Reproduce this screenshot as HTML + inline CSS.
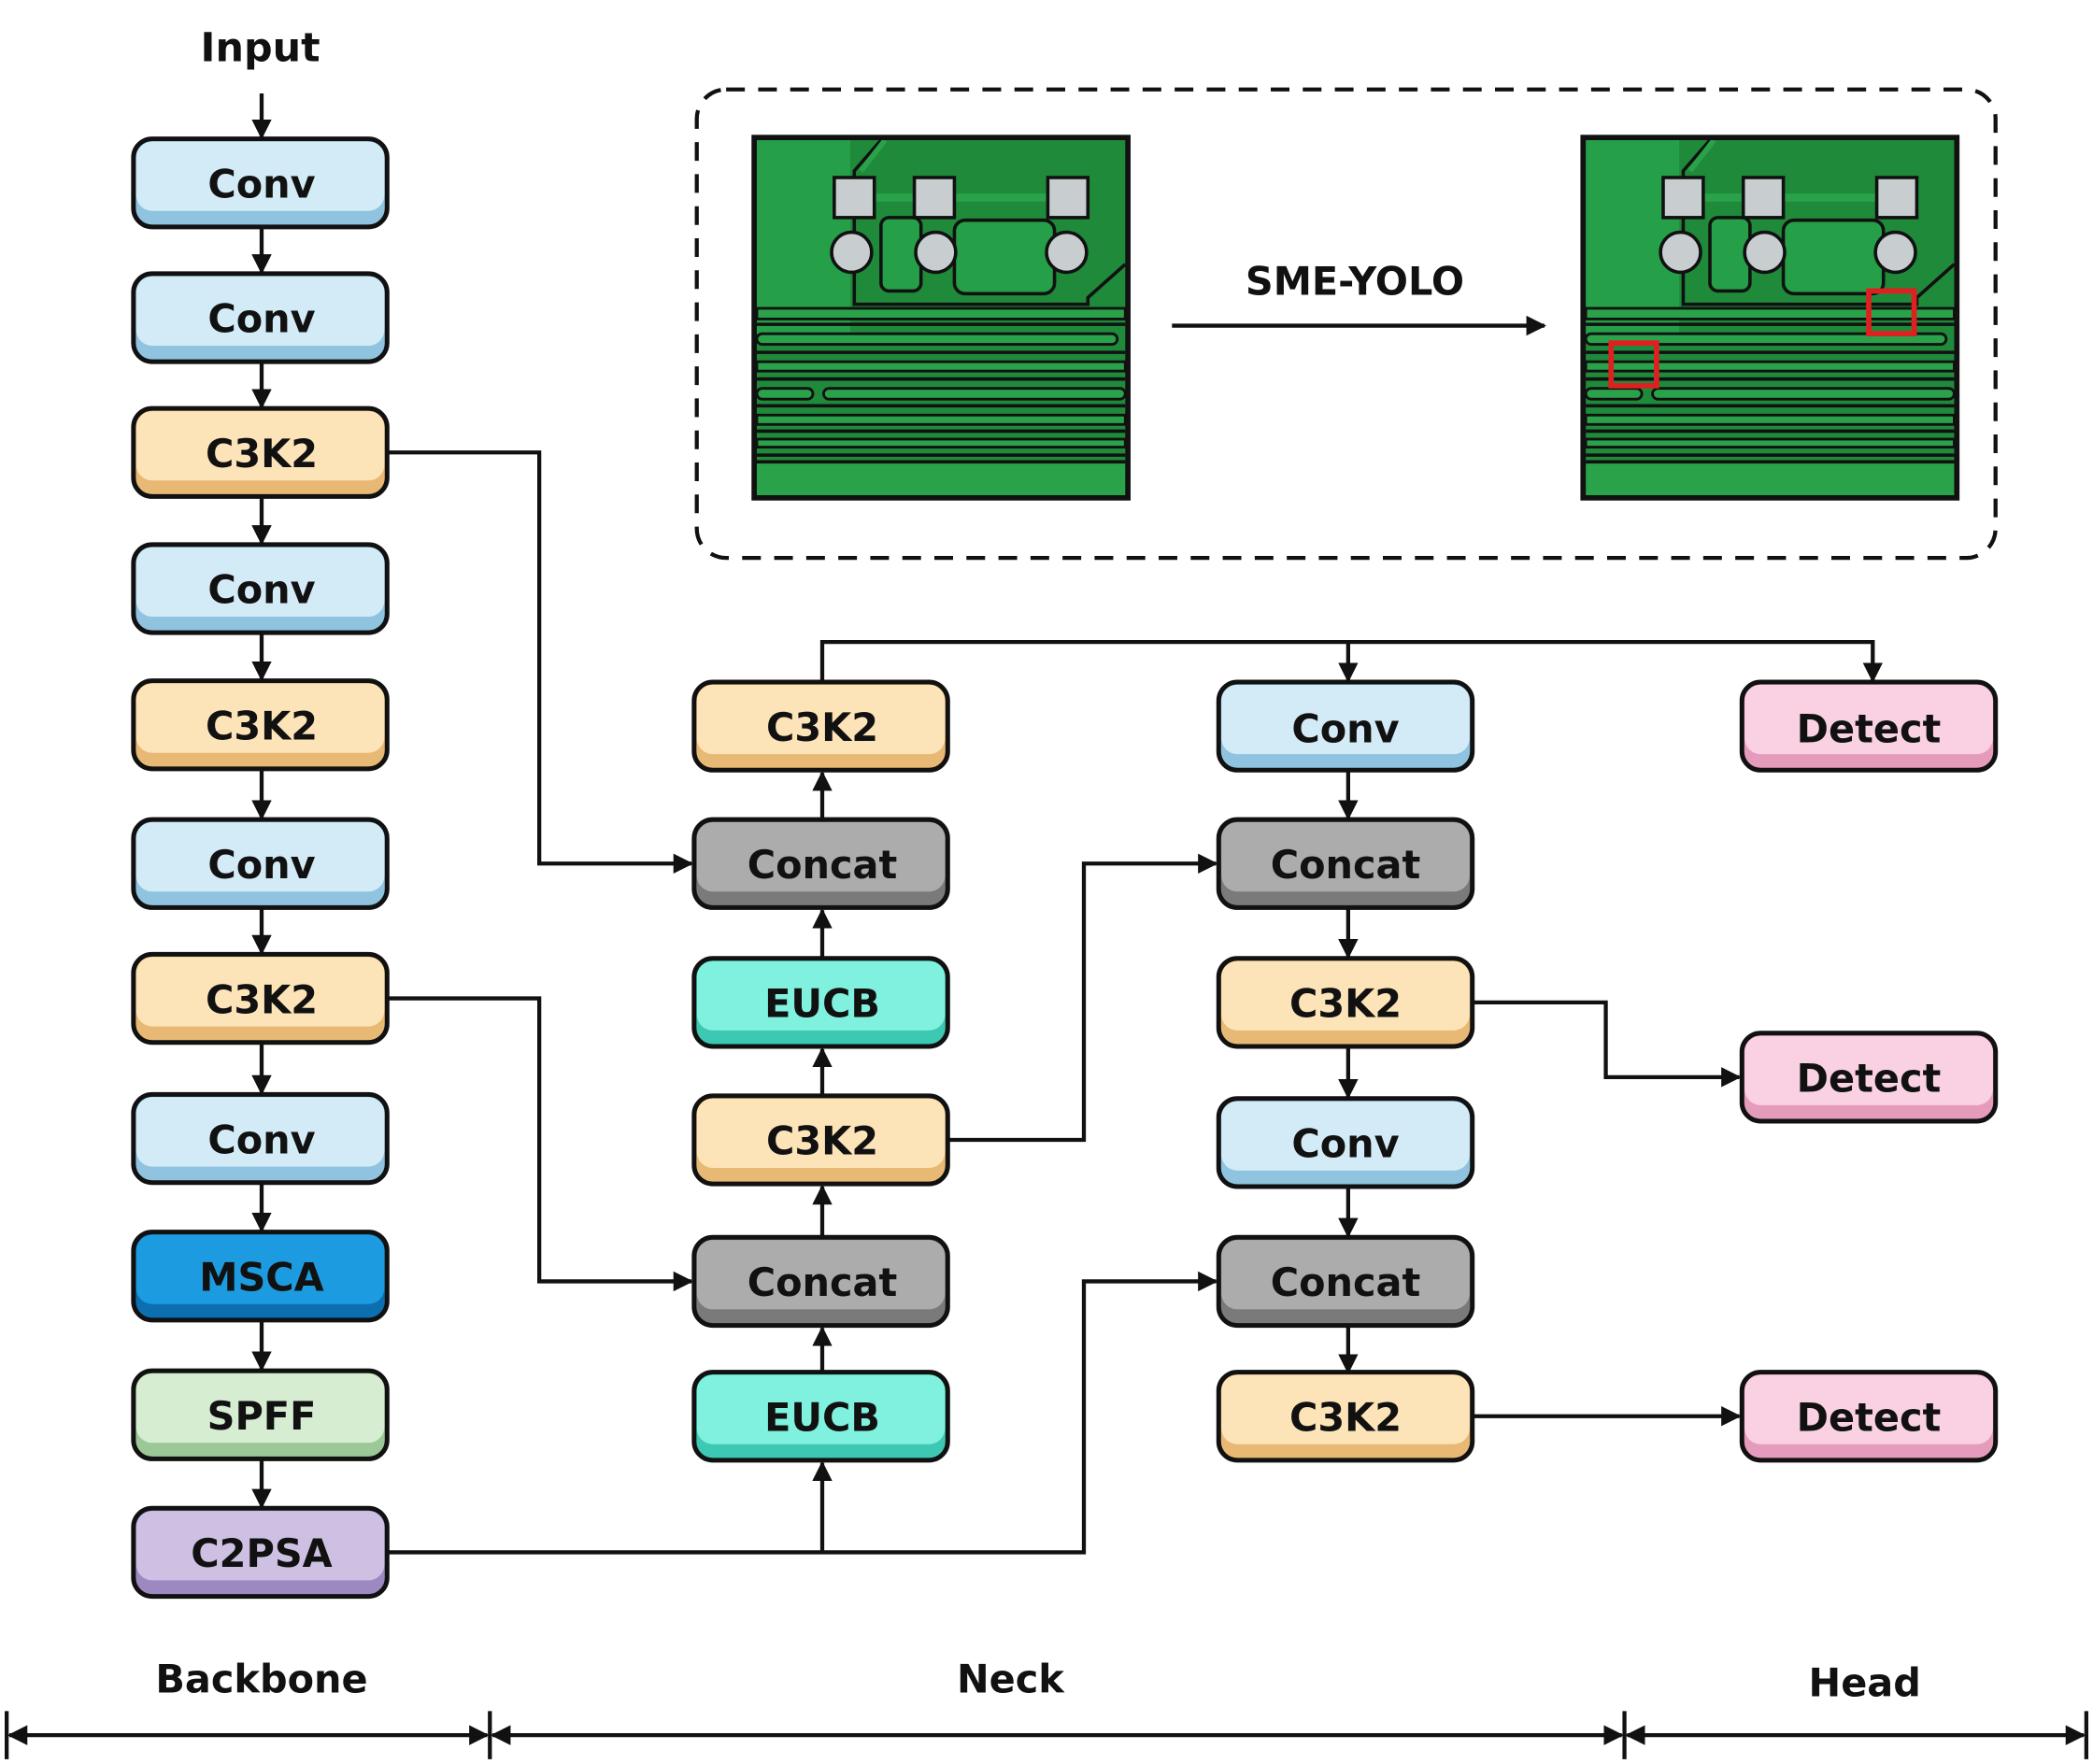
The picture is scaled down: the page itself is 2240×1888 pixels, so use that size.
<!DOCTYPE html>
<html><head><meta charset="utf-8"><style>
html,body{margin:0;padding:0;background:#fff;}
svg{display:block;}
text{font-family:"DejaVu Sans","Liberation Sans",sans-serif;font-weight:bold;}
</style></head><body>
<svg width="2240" height="1888" viewBox="0 0 1568 1321.6" preserveAspectRatio="none" xmlns="http://www.w3.org/2000/svg">
<defs>
<marker id="ah" viewBox="0 0 10 10" refX="9" refY="5" markerWidth="5" markerHeight="5" orient="auto-start-reverse"><path d="M0,0 L10,5 L0,10 z" fill="#111"/></marker>
<g id="pcb">
 <rect x="0" y="0" width="280" height="270" fill="#1f8a3a"/>
 <rect x="2" y="2" width="70" height="150" fill="#26a048"/>
 <g stroke="#111" stroke-width="2" fill="#2aa24a">
  <rect x="2" y="128" width="276" height="8"/>
  <rect x="2" y="147" width="270" height="8" rx="4"/>
  <rect x="2" y="168" width="276" height="7"/>
  <rect x="52" y="188" width="226" height="8" rx="4"/>
  <rect x="2" y="188" width="42" height="8" rx="4"/>
  <rect x="2" y="208" width="276" height="7"/>
  <rect x="2" y="226" width="276" height="6"/>
  <rect x="2" y="244" width="276" height="24" stroke="none"/>
 </g>
 <g stroke="#111" stroke-width="2.5" fill="none">
  <line x1="2" y1="140" x2="278" y2="140"/><line x1="2" y1="161" x2="278" y2="161"/>
  <line x1="2" y1="181" x2="278" y2="181"/><line x1="2" y1="201" x2="278" y2="201"/>
  <line x1="2" y1="220" x2="278" y2="220"/><line x1="2" y1="238" x2="278" y2="238"/>
  <line x1="2" y1="243" x2="278" y2="243"/>
 </g>
 <path d="M95,2 L75,25 L75,125 L250,125 L250,120 L278,95" stroke="#111" stroke-width="2.5" fill="none"/>
 <path d="M98,2 L80,25" stroke="#2aa24a" stroke-width="4" fill="none"/>
 <rect x="150" y="62" width="75" height="55" rx="8" fill="#26a048" stroke="#111" stroke-width="2.5"/>
 <rect x="95" y="60" width="30" height="55" rx="6" fill="#26a048" stroke="#111" stroke-width="2.5"/>
 <line x1="90" y1="45" x2="220" y2="45" stroke="#2aa24a" stroke-width="6"/>
 <g fill="#c8cdd0" stroke="#111" stroke-width="2.5">
  <rect x="60" y="30" width="30" height="30"/><rect x="120" y="30" width="30" height="30"/><rect x="220" y="30" width="30" height="30"/>
  <circle cx="73" cy="86" r="15"/><circle cx="136" cy="86" r="15"/><circle cx="234" cy="86" r="15"/>
 </g>
 <rect x="0" y="0" width="280" height="270" fill="none" stroke="#111" stroke-width="4"/>
</g>
</defs>

<text x="195" y="46" font-size="30" text-anchor="middle" fill="#111">Input</text>

<rect x="522" y="67" width="973" height="351" rx="22" fill="none" stroke="#111" stroke-width="3" stroke-dasharray="14,10"/>
<use href="#pcb" x="565" y="103"/>
<use href="#pcb" x="1186" y="103"/>
<rect x="1400" y="218" width="34" height="32" fill="none" stroke="#e02020" stroke-width="4"/>
<rect x="1207" y="257" width="34" height="32" fill="none" stroke="#e02020" stroke-width="4"/>
<text x="1015" y="221" font-size="29" text-anchor="middle" fill="#111">SME-YOLO</text>
<line x1="878" y1="244" x2="1157" y2="244" stroke="#111" stroke-width="3" marker-end="url(#ah)"/>

<g stroke="#111" stroke-width="3" fill="none">
 <line x1="196" y1="70" x2="196" y2="103" marker-end="url(#ah)"/>
 <line x1="196" y1="170" x2="196" y2="204" marker-end="url(#ah)"/>
 <line x1="196" y1="271" x2="196" y2="305" marker-end="url(#ah)"/>
 <line x1="196" y1="372" x2="196" y2="407" marker-end="url(#ah)"/>
 <line x1="196" y1="474" x2="196" y2="509" marker-end="url(#ah)"/>
 <line x1="196" y1="576" x2="196" y2="613" marker-end="url(#ah)"/>
 <line x1="196" y1="680" x2="196" y2="714" marker-end="url(#ah)"/>
 <line x1="196" y1="781" x2="196" y2="819" marker-end="url(#ah)"/>
 <line x1="196" y1="886" x2="196" y2="922" marker-end="url(#ah)"/>
 <line x1="196" y1="989" x2="196" y2="1026" marker-end="url(#ah)"/>
 <line x1="196" y1="1093" x2="196" y2="1129" marker-end="url(#ah)"/>

 <polyline points="290,339 404,339 404,647 518,647" marker-end="url(#ah)"/>
 <polyline points="290,748 404,748 404,960 518,960" marker-end="url(#ah)"/>
 <polyline points="290,1163 812,1163 812,960 911,960" marker-end="url(#ah)"/>
 <line x1="616" y1="1163" x2="616" y2="1096" marker-end="url(#ah)"/>

 <line x1="616" y1="1028" x2="616" y2="995" marker-end="url(#ah)"/>
 <line x1="616" y1="926" x2="616" y2="889" marker-end="url(#ah)"/>
 <line x1="616" y1="820" x2="616" y2="786" marker-end="url(#ah)"/>
 <line x1="616" y1="717" x2="616" y2="682" marker-end="url(#ah)"/>
 <line x1="616" y1="613" x2="616" y2="579" marker-end="url(#ah)"/>

 <polyline points="710,854 812,854 812,647 911,647" marker-end="url(#ah)"/>
 <polyline points="616,510 616,481 1403,481 1403,510" marker-end="url(#ah)"/>
 <line x1="1010" y1="481" x2="1010" y2="510" marker-end="url(#ah)"/>

 <line x1="1010" y1="578" x2="1010" y2="613" marker-end="url(#ah)"/>
 <line x1="1010" y1="680" x2="1010" y2="717" marker-end="url(#ah)"/>
 <line x1="1010" y1="784" x2="1010" y2="822" marker-end="url(#ah)"/>
 <line x1="1010" y1="889" x2="1010" y2="926" marker-end="url(#ah)"/>
 <line x1="1010" y1="993" x2="1010" y2="1028" marker-end="url(#ah)"/>

 <polyline points="1103,751 1203,751 1203,807 1303,807" marker-end="url(#ah)"/>
 <line x1="1103" y1="1061" x2="1303" y2="1061" marker-end="url(#ah)"/>

 <line x1="7" y1="1300" x2="365" y2="1300" marker-start="url(#ah)" marker-end="url(#ah)"/>
 <line x1="369" y1="1300" x2="1215" y2="1300" marker-start="url(#ah)" marker-end="url(#ah)"/>
 <line x1="1219" y1="1300" x2="1561" y2="1300" marker-start="url(#ah)" marker-end="url(#ah)"/>
 <line x1="5" y1="1282" x2="5" y2="1318"/><line x1="367" y1="1282" x2="367" y2="1318"/>
 <line x1="1217" y1="1282" x2="1217" y2="1318"/><line x1="1563" y1="1282" x2="1563" y2="1318"/>
</g>

<text x="196" y="1268" font-size="29" text-anchor="middle" fill="#111">Backbone</text>
<text x="757" y="1268" font-size="29" text-anchor="middle" fill="#111">Neck</text>
<text x="1397" y="1271" font-size="29" text-anchor="middle" fill="#111">Head</text>

<g stroke="#111" stroke-width="3.5">
 <g><rect x="100" y="104" width="190" height="66" rx="14" fill="#8fc3df"/><rect x="102" y="106" width="186" height="52" rx="12" fill="#d3ebf7" stroke="none"/></g>
 <g><rect x="100" y="205" width="190" height="66" rx="14" fill="#8fc3df"/><rect x="102" y="207" width="186" height="52" rx="12" fill="#d3ebf7" stroke="none"/></g>
 <g><rect x="100" y="306" width="190" height="66" rx="14" fill="#e8b875"/><rect x="102" y="308" width="186" height="52" rx="12" fill="#fde4b8" stroke="none"/></g>
 <g><rect x="100" y="408" width="190" height="66" rx="14" fill="#8fc3df"/><rect x="102" y="410" width="186" height="52" rx="12" fill="#d3ebf7" stroke="none"/></g>
 <g><rect x="100" y="510" width="190" height="66" rx="14" fill="#e8b875"/><rect x="102" y="512" width="186" height="52" rx="12" fill="#fde4b8" stroke="none"/></g>
 <g><rect x="100" y="614" width="190" height="66" rx="14" fill="#8fc3df"/><rect x="102" y="616" width="186" height="52" rx="12" fill="#d3ebf7" stroke="none"/></g>
 <g><rect x="100" y="715" width="190" height="66" rx="14" fill="#e8b875"/><rect x="102" y="717" width="186" height="52" rx="12" fill="#fde4b8" stroke="none"/></g>
 <g><rect x="100" y="820" width="190" height="66" rx="14" fill="#8fc3df"/><rect x="102" y="822" width="186" height="52" rx="12" fill="#d3ebf7" stroke="none"/></g>
 <g><rect x="100" y="923" width="190" height="66" rx="14" fill="#0b6fb0"/><rect x="102" y="925" width="186" height="52" rx="12" fill="#1d9be0" stroke="none"/></g>
 <g><rect x="100" y="1027" width="190" height="66" rx="14" fill="#9cc797"/><rect x="102" y="1029" width="186" height="52" rx="12" fill="#d6edd2" stroke="none"/></g>
 <g><rect x="100" y="1130" width="190" height="66" rx="14" fill="#9d89c2"/><rect x="102" y="1132" width="186" height="52" rx="12" fill="#cdc0e2" stroke="none"/></g>
 <g><rect x="520" y="511" width="190" height="66" rx="14" fill="#e8b875"/><rect x="522" y="513" width="186" height="52" rx="12" fill="#fde4b8" stroke="none"/></g>
 <g><rect x="520" y="614" width="190" height="66" rx="14" fill="#7a7a7a"/><rect x="522" y="616" width="186" height="52" rx="12" fill="#acacac" stroke="none"/></g>
 <g><rect x="520" y="718" width="190" height="66" rx="14" fill="#3cc8b3"/><rect x="522" y="720" width="186" height="52" rx="12" fill="#80f1de" stroke="none"/></g>
 <g><rect x="520" y="821" width="190" height="66" rx="14" fill="#e8b875"/><rect x="522" y="823" width="186" height="52" rx="12" fill="#fde4b8" stroke="none"/></g>
 <g><rect x="520" y="927" width="190" height="66" rx="14" fill="#7a7a7a"/><rect x="522" y="929" width="186" height="52" rx="12" fill="#acacac" stroke="none"/></g>
 <g><rect x="520" y="1028" width="190" height="66" rx="14" fill="#3cc8b3"/><rect x="522" y="1030" width="186" height="52" rx="12" fill="#80f1de" stroke="none"/></g>
 <g><rect x="913" y="511" width="190" height="66" rx="14" fill="#8fc3df"/><rect x="915" y="513" width="186" height="52" rx="12" fill="#d3ebf7" stroke="none"/></g>
 <g><rect x="913" y="614" width="190" height="66" rx="14" fill="#7a7a7a"/><rect x="915" y="616" width="186" height="52" rx="12" fill="#acacac" stroke="none"/></g>
 <g><rect x="913" y="718" width="190" height="66" rx="14" fill="#e8b875"/><rect x="915" y="720" width="186" height="52" rx="12" fill="#fde4b8" stroke="none"/></g>
 <g><rect x="913" y="823" width="190" height="66" rx="14" fill="#8fc3df"/><rect x="915" y="825" width="186" height="52" rx="12" fill="#d3ebf7" stroke="none"/></g>
 <g><rect x="913" y="927" width="190" height="66" rx="14" fill="#7a7a7a"/><rect x="915" y="929" width="186" height="52" rx="12" fill="#acacac" stroke="none"/></g>
 <g><rect x="913" y="1028" width="190" height="66" rx="14" fill="#e8b875"/><rect x="915" y="1030" width="186" height="52" rx="12" fill="#fde4b8" stroke="none"/></g>
 <g><rect x="1305" y="511" width="190" height="66" rx="14" fill="#e59cbc"/><rect x="1307" y="513" width="186" height="52" rx="12" fill="#f9d1e2" stroke="none"/></g>
 <g><rect x="1305" y="774" width="190" height="66" rx="14" fill="#e59cbc"/><rect x="1307" y="776" width="186" height="52" rx="12" fill="#f9d1e2" stroke="none"/></g>
 <g><rect x="1305" y="1028" width="190" height="66" rx="14" fill="#e59cbc"/><rect x="1307" y="1030" width="186" height="52" rx="12" fill="#f9d1e2" stroke="none"/></g>
</g>

<g font-size="29" text-anchor="middle" fill="#111">
 <text x="196" y="148">Conv</text>
 <text x="196" y="249">Conv</text>
 <text x="196" y="350">C3K2</text>
 <text x="196" y="452">Conv</text>
 <text x="196" y="554">C3K2</text>
 <text x="196" y="658">Conv</text>
 <text x="196" y="759">C3K2</text>
 <text x="196" y="864">Conv</text>
 <text x="196" y="967">MSCA</text>
 <text x="196" y="1071">SPFF</text>
 <text x="196" y="1174">C2PSA</text>
 <text x="616" y="555">C3K2</text>
 <text x="616" y="658">Concat</text>
 <text x="616" y="762">EUCB</text>
 <text x="616" y="865">C3K2</text>
 <text x="616" y="971">Concat</text>
 <text x="616" y="1072">EUCB</text>
 <text x="1008" y="556">Conv</text>
 <text x="1008" y="658">Concat</text>
 <text x="1008" y="762">C3K2</text>
 <text x="1008" y="867">Conv</text>
 <text x="1008" y="971">Concat</text>
 <text x="1008" y="1072">C3K2</text>
 <text x="1400" y="556">Detect</text>
 <text x="1400" y="818">Detect</text>
 <text x="1400" y="1072">Detect</text>
</g>
</svg>
</body></html>
